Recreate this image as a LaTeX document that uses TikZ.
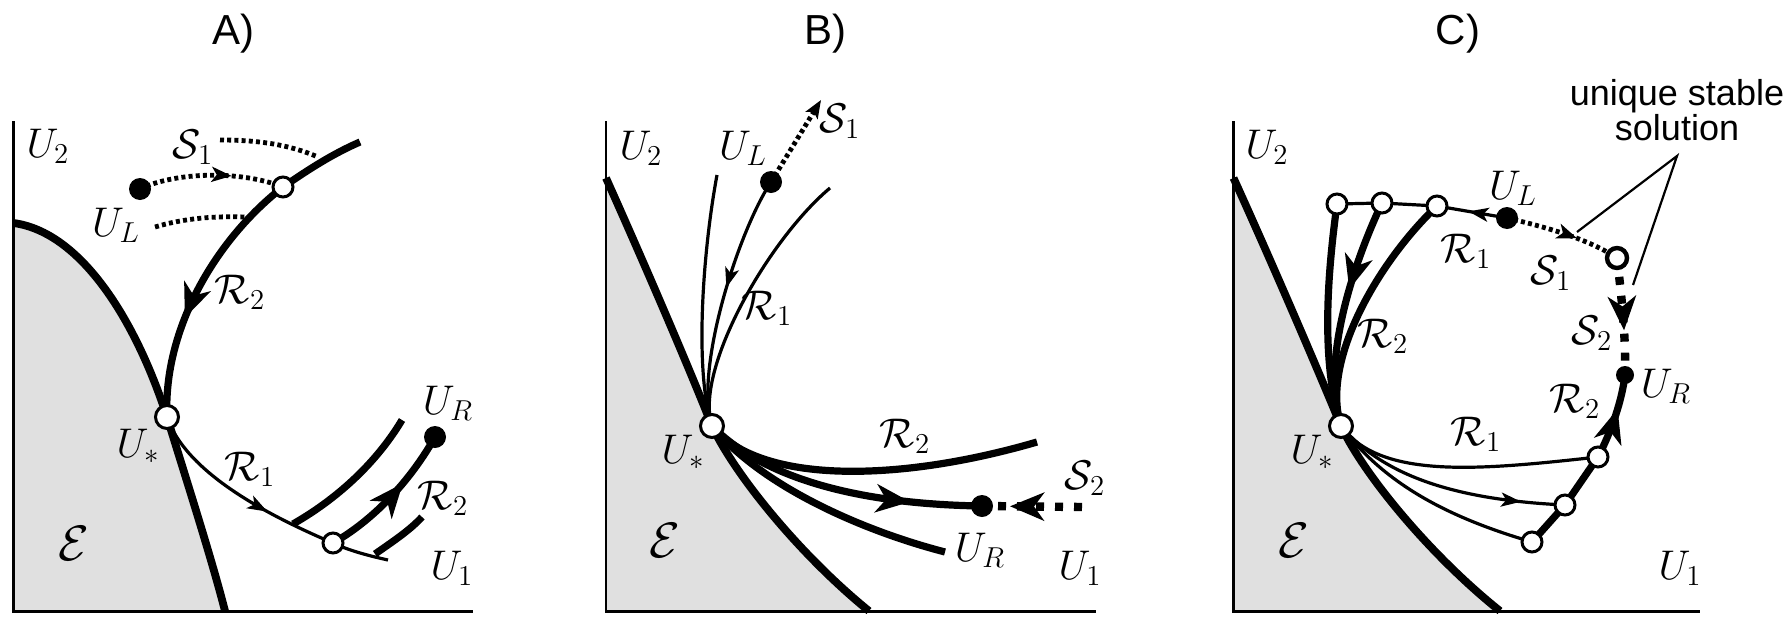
\documentclass[tikz,border=0pt]{standalone}
\usepackage{fontspec}
\setsansfont{Liberation Sans}
\usetikzlibrary{arrows.meta,decorations.markings}
\begin{document}
\begin{tikzpicture}[x=0.5pt,y=-0.5pt,
 axis/.style={line width=1.25pt},
 bnd/.style={line width=3.9pt},
 thk/.style={line width=3.6pt},
 thn/.style={line width=1.6pt},
 dotl/.style={line width=2.4pt, dash pattern=on 2pt off 1.6pt},
 dashl/.style={line width=4.2pt, dash pattern=on 4pt off 5.5pt},
 opendot/.style={circle, draw, fill=white, line width=1.5pt, minimum size=10pt, inner sep=0pt},
 bigopen/.style={opendot, minimum size=11.5pt},
 fulldot/.style={circle, fill=black, minimum size=11pt, inner sep=0pt},
 lbl/.style={font=\fontsize{20}{22}\selectfont, inner sep=0pt},
 elbl/.style={font=\fontsize{30}{32}\selectfont, inner sep=0pt},
 ttl/.style={font=\sffamily\fontsize{21}{24}\selectfont, inner sep=0pt},
 bigarr/.style={postaction={solid,decorate}, decoration={markings, mark=at position #1 with {\arrow{Stealth[length=17pt,width=14pt,inset=5pt]}}}},
 midarr/.style={postaction={solid,decorate}, decoration={markings, mark=at position #1 with {\arrow{Stealth[length=10pt,width=7.5pt,inset=2.5pt]}}}},
 smallarr/.style={postaction={solid,decorate}, decoration={markings, mark=at position #1 with {\arrow{Stealth[length=10pt,width=7pt,inset=2.5pt]}}}}
]
\useasboundingbox[fill=white] (0,0) rectangle (1789,616);

% ================= Panel A =================
\node[ttl] (tA) at (233,34) {A)};
\fill[black!12] (13.5,223) .. controls (80,232) and (135,318) .. (167,417) .. controls (188,485) and (212,560) .. (225,611) -- (13.5,611) -- cycle;
\draw[bnd] (13.5,223) .. controls (80,232) and (135,318) .. (167,417) .. controls (188,485) and (212,560) .. (225,611);
\draw[axis] (13.5,121) -- (13.5,611.5) -- (473,611.5);
\coordinate (Astar) at (167,417);
\coordinate (AUL) at (140,189);
\coordinate (Ac1) at (283,187);
\coordinate (Ac2) at (333,543);
\coordinate (AUR) at (435,437);
\draw[thk] (Ac1) .. controls (305,172) and (330,155) .. (360,142);
\draw[thk, bigarr=0.62] (Ac1) .. controls (215,240) and (163,330) .. (Astar);
\draw[dotl, midarr=0.64] (AUL) .. controls (175,172) and (240,170) .. (Ac1);
\draw[dotl] (220,140) .. controls (260,140) and (290,145) .. (318,157);
\draw[dotl] (155,227) .. controls (185,218) and (215,216) .. (245,217);
\draw[thn, smallarr=0.66] (Astar) .. controls (185,470) and (260,512) .. (Ac2);
\draw[thn] (Ac2) .. controls (350,551) and (370,556) .. (388,560);
\draw[thk] (293,524) .. controls (335,500) and (375,465) .. (402,420);
\draw[thk, bigarr=0.62] (Ac2) .. controls (365,525) and (405,490) .. (AUR);
\draw[thk] (375,554) .. controls (395,540) and (410,530) .. (422,517);
\node[bigopen] (AstarN) at (Astar) {};
\node[opendot] (Ac1N) at (Ac1) {};
\node[opendot] (Ac2N) at (Ac2) {};
\node[fulldot] (AULN) at (AUL) {};
\node[fulldot] (AURN) at (AUR) {};
\node[lbl] (A-U2) at (48,146) {$U_2$};
\node[lbl] (A-S1) at (193,147) {$\mathcal{S}_1$};
\node[lbl] (A-UL) at (116,225) {$U_L$};
\node[lbl] (A-R2) at (240,292) {$\mathcal{R}_2$};
\node[lbl] (A-Us) at (138,446) {$U_*$};
\node[lbl] (A-R1) at (250,469) {$\mathcal{R}_1$};
\node[elbl] (A-E) at (74,543) {$\mathcal{E}$};
\node[lbl] (A-UR) at (448,403) {$U_R$};
\node[lbl] (A-R2b) at (443,498) {$\mathcal{R}_2$};
\node[lbl] (A-U1) at (452,568) {$U_1$};

% ================= Panel B =================
\node[ttl] (tB) at (825,34) {B)};
\fill[black!12] (606,178) .. controls (645,265) and (690,370) .. (712,426) .. controls (735,475) and (800,555) .. (869,611) -- (606,611) -- cycle;
\draw[bnd] (606,178) .. controls (645,265) and (690,370) .. (712,426) .. controls (735,475) and (800,555) .. (869,611);
\draw[axis] (606,121) -- (606,611.5) -- (1096,611.5);
\coordinate (Bstar) at (712,426);
\coordinate (BUL) at (771,182);
\coordinate (BUR) at (982,506);
\coordinate (BS1) at (821,100);
\coordinate (BS2) at (1082,507);
\draw[thn] (717,175) .. controls (703,250) and (694,370) .. (Bstar);
\draw[thn, smallarr=0.45] (BUL) .. controls (738,232) and (694,370) .. (Bstar);
\draw[thn] (830,188) .. controls (768,240) and (694,370) .. (Bstar);
\draw[dotl, -{Stealth[length=9pt,width=7pt,inset=2pt]}] (BUL) -- (BS1);
\draw[thk] (Bstar) .. controls (760,485) and (900,482) .. (1037,442);
\draw[thk, bigarr=0.75] (Bstar) .. controls (760,475) and (850,504) .. (BUR);
\draw[thk] (Bstar) .. controls (760,485) and (860,530) .. (945,552);
\draw[dashl, bigarr=0.72] (BS2) -- (BUR);
\node[bigopen] (BstarN) at (Bstar) {};
\node[fulldot] (BULN) at (BUL) {};
\node[fulldot] (BURN) at (BUR) {};
\node[lbl] (B-U2) at (641,148) {$U_2$};
\node[lbl] (B-UL) at (743,148) {$U_L$};
\node[lbl] (B-S1) at (840,121) {$\mathcal{S}_1$};
\node[lbl] (B-R1) at (767,308) {$\mathcal{R}_1$};
\node[lbl] (B-Us) at (683,452) {$U_*$};
\node[elbl] (B-E) at (665,540) {$\mathcal{E}$};
\node[lbl] (B-R2) at (905,436) {$\mathcal{R}_2$};
\node[lbl] (B-S2) at (1085,478) {$\mathcal{S}_2$};
\node[lbl] (B-UR) at (980,550) {$U_R$};
\node[lbl] (B-U1) at (1080,568) {$U_1$};

% ================= Panel C =================
\node[ttl] (tC) at (1458,34) {C)};
\fill[black!12] (1233.5,178) .. controls (1273,265) and (1318,370) .. (1341,426) .. controls (1364,475) and (1430,555) .. (1500,611) -- (1233.5,611) -- cycle;
\draw[bnd] (1233.5,178) .. controls (1273,265) and (1318,370) .. (1341,426) .. controls (1364,475) and (1430,555) .. (1500,611);
\draw[axis] (1233.5,121) -- (1233.5,611.5) -- (1700,611.5);
\coordinate (Cstar) at (1341,426);
\coordinate (Ct1) at (1337,204);
\coordinate (Ct2) at (1382,203);
\coordinate (Ct3) at (1437,206);
\coordinate (CUL) at (1507,218);
\coordinate (CS) at (1617,258);
\coordinate (CUR) at (1625,375);
\coordinate (Cb1) at (1598,457);
\coordinate (Cb2) at (1565,505);
\coordinate (Cb3) at (1532,542);
\draw[thn] (Ct1) -- (Ct2) -- (Ct3);
\draw[thn, smallarr=0.55] (CUL) -- (Ct3);
\draw[thk] (Ct1) .. controls (1328,270) and (1320,360) .. (Cstar);
\draw[thk, bigarr=0.4] (Ct2) .. controls (1355,260) and (1320,360) .. (Cstar);
\draw[thk] (Ct3) .. controls (1380,260) and (1320,360) .. (Cstar);
\draw[dotl, midarr=0.62] (CUL) .. controls (1550,228) and (1590,240) .. (CS);
\draw[dashl, bigarr=0.62] (CS) .. controls (1622,300) and (1626,340) .. (CUR);
\draw[thn] (Cstar) .. controls (1380,480) and (1480,470) .. (Cb1);
\draw[thn, smallarr=0.82] (Cstar) .. controls (1385,478) and (1460,500) .. (Cb2);
\draw[thn] (Cstar) .. controls (1385,485) and (1450,518) .. (Cb3);
\draw[thk] (Cb3) -- (Cb2) -- (Cb1);
\draw[thk, bigarr=0.6] (Cb1) .. controls (1612,430) and (1622,400) .. (CUR);
\node[bigopen] (CstarN) at (Cstar) {};
\node[opendot] (Ct1N) at (Ct1) {};
\node[opendot] (Ct2N) at (Ct2) {};
\node[opendot] (Ct3N) at (Ct3) {};
\node[opendot, line width=2.2pt] (CSN) at (CS) {};
\node[opendot] (Cb1N) at (Cb1) {};
\node[opendot] (Cb2N) at (Cb2) {};
\node[opendot] (Cb3N) at (Cb3) {};
\node[fulldot] (CULN) at (CUL) {};
\node[fulldot, minimum size=9pt] (CURN) at (CUR) {};
\node[font=\sffamily\fontsize{18}{16}\selectfont, align=center, inner sep=0pt] (sol) at (1677,110) {unique stable\\solution};
\coordinate (solA) at (1677,156);
\draw[line width=1.1pt] (1577,232) -- (solA) -- (1633,285);
\node[lbl] (C-U2) at (1267,147) {$U_2$};
\node[lbl] (C-UL) at (1513,188) {$U_L$};
\node[lbl] (C-R1) at (1466,251) {$\mathcal{R}_1$};
\node[lbl] (C-S1) at (1551,273) {$\mathcal{S}_1$};
\node[lbl] (C-S2) at (1592,333) {$\mathcal{S}_2$};
\node[lbl] (C-R2) at (1383,336) {$\mathcal{R}_2$};
\node[lbl] (C-UR) at (1666,386) {$U_R$};
\node[lbl] (C-R2b) at (1575,401) {$\mathcal{R}_2$};
\node[lbl] (C-R1b) at (1476,434) {$\mathcal{R}_1$};
\node[lbl] (C-Us) at (1312,452) {$U_*$};
\node[elbl] (C-E) at (1294,540) {$\mathcal{E}$};
\node[lbl] (C-U1) at (1680,568) {$U_1$};
\end{tikzpicture}
\end{document}
